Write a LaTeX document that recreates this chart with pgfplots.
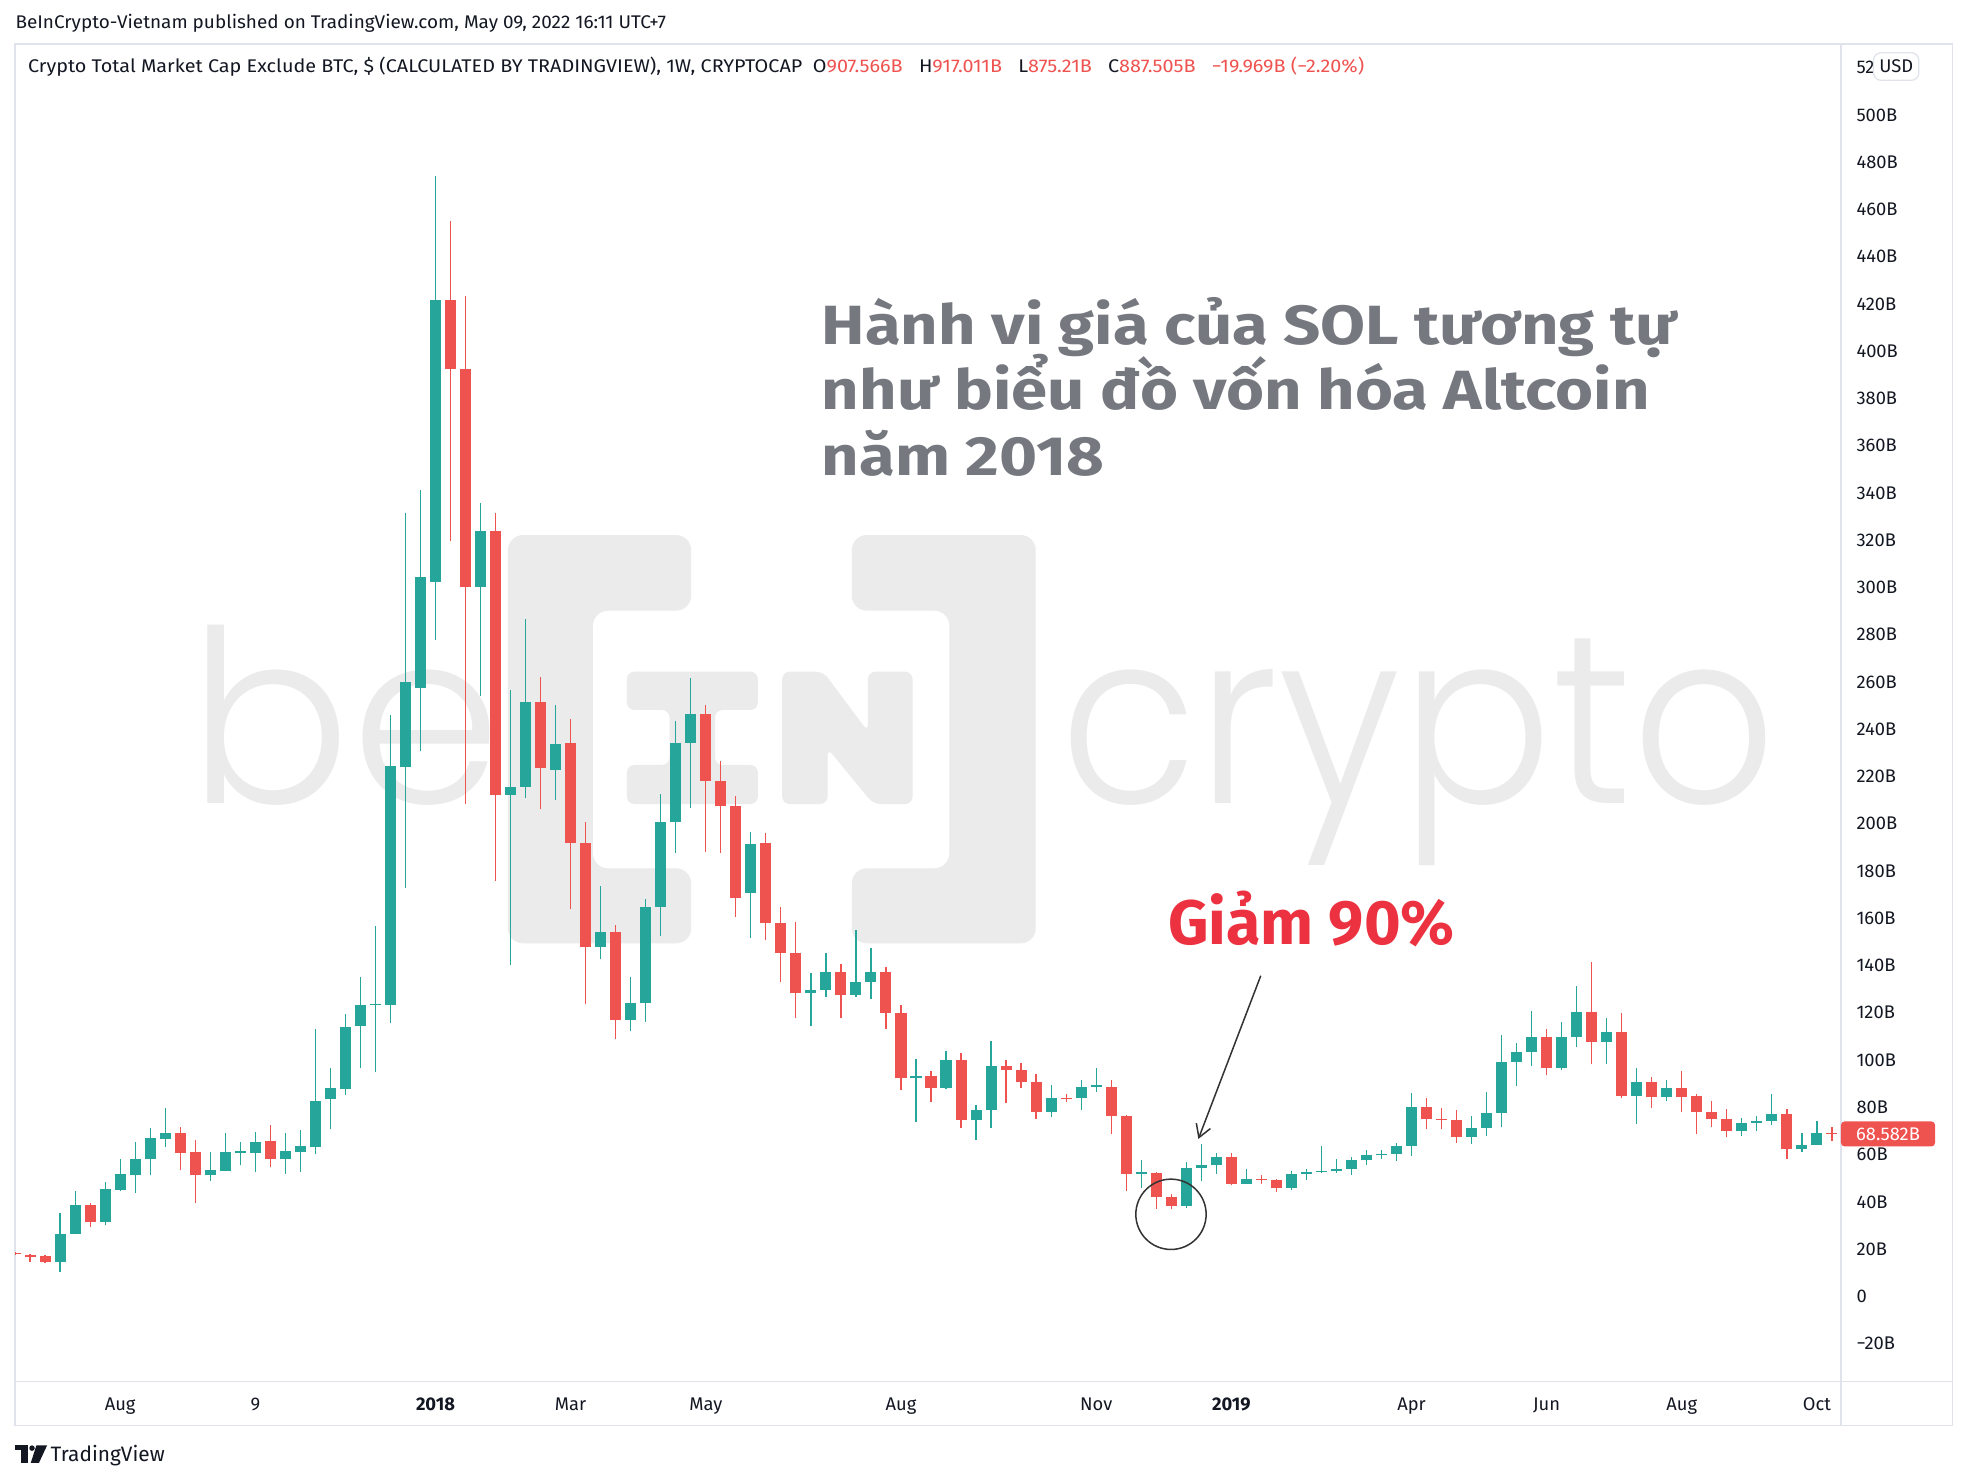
\documentclass[border=0pt]{standalone}
\usepackage{pgfplots}
\pgfplotsset{compat=1.18}
\usepackage{pgfplotstable}
\usepackage{graphicx}
\usepackage{fontspec}
\usetikzlibrary{arrows.meta}
\setmainfont{Fira Sans}
\IfFontExistsTF{Poppins Light}{\newfontfamily\wmfont{Poppins Light}}{\newfontfamily\wmfont{Poppins}}

\definecolor{up}{HTML}{26A69A}
\definecolor{dn}{HTML}{EF5350}
\definecolor{tv}{HTML}{131722}
\definecolor{frame}{HTML}{E0E3EB}
\definecolor{wm}{HTML}{EBEBEB}
\definecolor{note}{HTML}{767880}
\definecolor{hot}{HTML}{EC3240}

% weekly candles, value in billions USD
\pgfplotstableread{
i o h l c
3 14.5 35.2 10.3 26.5
4 26.5 44.4 26.3 38.5
6 31.4 48.4 30.0 45.6
7 45.0 58.3 44.4 51.6
8 51.2 65.1 43.9 58.3
9 57.9 71.4 51.2 67.0
10 66.5 79.5 63.2 68.9
13 51.2 61.1 48.8 53.6
14 53.0 68.9 53.0 61.1
15 60.5 65.3 55.4 61.3
16 60.7 69.6 52.4 65.3
18 57.9 68.9 51.9 61.5
19 61.1 70.3 52.6 63.6
20 63.2 113.3 60.0 82.7
21 83.3 96.8 70.6 88.2
22 87.9 119.5 85.0 114.0
23 114.3 135.2 96.4 123.2
24 123.2 156.8 94.7 123.8
25 123.2 246.2 115.8 224.4
26 223.9 331.3 172.9 259.9
27 257.4 341.2 230.8 304.2
28 302.2 474.2 277.8 421.5
31 300.2 335.7 254.2 323.8
33 212.2 256.7 140.1 215.7
34 215.7 286.8 210.7 251.7
36 222.7 250.3 210.0 233.8
39 147.9 173.6 142.6 154.3
41 116.9 135.2 112.3 123.9
42 123.9 168.1 116.1 164.8
43 164.8 212.4 152.4 200.6
44 200.6 243.6 187.7 234.3
45 234.3 261.6 206.8 246.3
49 170.5 196.6 151.5 191.4
53 128.2 136.9 114.3 129.6
54 129.6 145.1 126.7 137.1
56 127.4 155.0 126.7 133.1
57 133.1 147.2 126.0 137.1
60 92.2 100.6 73.8 93.1
62 88.3 103.9 87.6 99.9
64 74.5 80.9 66.3 78.7
65 78.7 108.1 71.2 97.4
69 77.8 89.3 75.9 84.1
71 83.8 91.4 79.0 88.6
72 88.6 96.7 86.5 89.2
75 51.9 57.6 46.0 52.5
78 38.1 56.8 37.5 54.3
79 54.3 64.3 48.7 55.4
80 55.4 60.8 51.9 59.0
82 47.7 53.7 47.5 49.8
85 46.0 53.0 44.9 51.6
86 51.6 53.7 49.4 52.4
87 52.4 63.6 52.2 53.0
88 53.0 58.0 52.3 54.0
89 54.0 59.0 51.5 57.6
90 57.6 62.1 55.6 59.7
91 59.7 62.1 58.0 60.3
92 60.1 64.9 57.3 63.6
93 63.6 86.1 59.5 80.1
97 67.2 76.4 64.6 71.4
98 71.4 86.5 67.9 77.6
99 77.6 110.5 71.7 99.2
100 99.2 107.3 88.9 103.4
101 103.4 120.7 97.5 109.8
103 96.4 115.9 95.9 109.8
104 109.8 131.3 105.6 120.4
106 107.7 117.8 98.2 111.9
108 84.8 96.8 73.1 90.7
110 84.4 91.4 82.5 88.2
115 69.8 75.6 67.7 73.4
116 73.4 76.2 70.0 74.1
117 74.1 85.4 72.4 77.3
119 62.5 68.9 61.1 64.2
120 64.2 74.2 63.9 68.9
}\upcandles

\pgfplotstableread{
i o h l c
0 18.4 18.8 17.6 17.8
1 17.4 17.7 14.6 16.5
2 16.9 17.6 14.1 14.5
5 38.5 39.3 29.3 31.4
11 68.9 71.7 53.3 60.7
12 61.1 66.0 39.6 51.2
17 65.7 72.4 54.5 57.9
29 421.5 455.0 319.6 392.4
30 392.4 423.5 208.5 300.2
32 323.8 331.5 175.9 212.2
35 251.7 262.0 206.1 223.5
37 234.3 244.2 163.7 191.7
38 191.7 200.6 123.5 147.9
40 154.3 157.1 108.8 116.9
46 246.3 250.3 188.1 218.1
47 218.1 226.6 187.7 207.5
48 207.5 211.7 160.6 168.4
50 191.7 195.9 150.7 157.8
51 157.8 164.8 132.8 145.4
52 145.4 158.2 117.6 128.2
55 137.1 140.6 117.6 127.4
58 137.1 139.2 113.3 119.7
59 120.0 123.2 87.2 92.2
61 93.1 95.4 82.3 88.3
63 99.9 102.8 71.2 74.5
66 97.4 99.9 81.6 95.7
67 95.7 98.8 88.3 90.5
68 90.5 94.0 75.2 77.8
70 84.1 85.8 82.3 83.5
73 88.6 91.4 68.6 76.3
74 76.3 76.8 44.6 51.9
76 52.3 52.7 37.1 42.0
77 42.0 43.1 36.8 38.1
81 59.0 60.8 47.0 47.7
83 49.8 51.2 47.3 49.1
84 49.0 49.5 44.1 46.0
94 80.1 84.1 70.6 75.2
95 75.2 79.5 70.6 74.5
96 74.5 78.8 65.0 67.2
102 109.8 113.0 93.5 96.4
105 120.4 141.6 98.1 107.7
107 111.9 120.0 83.7 84.8
109 90.7 92.9 79.7 84.4
111 88.2 95.4 77.8 84.4
112 84.8 85.8 68.6 77.8
113 77.8 82.7 71.7 75.2
114 75.2 79.4 67.2 69.8
118 77.3 79.4 57.9 62.5
121 69.1 71.8 65.8 68.6
}\dncandles

\newcommand\tvfont{\fontsize{7.3}{8.8}\selectfont}
\pgfplotsset{candle/.style={only marks,mark=*,mark size=0pt,mark options={draw=none,fill=none},forget plot,
  error bars/.cd,y dir=plus,y explicit,error mark=none}}

\begin{document}
\begin{tikzpicture}
\useasboundingbox (0,0) rectangle (784pt,589.5pt);
\fill[white] (0,0) rectangle (784pt,589.5pt);

% watermark (units: pixels of the 1568 wide picture, y downwards)
\begin{scope}[x=0.5pt,y=-0.5pt,shift={(0pt,589.5pt)}]
  \fill[wm,rounded corners=6] (404.5,426.1) -- (550.4,426.1) -- (550.4,486.3) -- (472.2,486.3) -- (472.2,691.5) -- (550.4,691.5) -- (550.4,751.2) -- (404.5,751.2) -- cycle;
  \fill[wm,rounded corners=6] (678.3,426.1) -- (824.8,426.1) -- (824.8,751.2) -- (678.3,751.2) -- (678.3,691.5) -- (756,691.5) -- (756,486.3) -- (678.3,486.3) -- cycle;
  \fill[wm,rounded corners=3] (499.2,534.9) -- (603.5,534.9) -- (603.5,565.4) -- (569.4,565.4) -- (569.4,609.2) -- (603.5,609.2) -- (603.5,640.3) -- (499.2,640.3) -- (499.2,609.2) -- (533.2,609.2) -- (533.2,565.4) -- (499.2,565.4) -- cycle;
  \fill[wm,rounded corners=3] (622.9,534.9) -- (655.6,534.9) -- (691.2,582.7) -- (691.2,534.9) -- (726.7,534.9) -- (726.7,640.3) -- (695.4,640.3) -- (659.0,595.9) -- (659.0,640.3) -- (622.9,640.3) -- cycle;
  \node[anchor=base west,inner sep=0pt,text=wm,font=\wmfont\fontsize{96}{100}\selectfont] at (150,640) {be};
  \node[anchor=base west,inner sep=0pt,text=wm,font=\wmfont\fontsize{96}{100}\selectfont] at (844,640) {\scalebox{0.93}[1]{crypto}};
  % pane frame
  \draw[frame,line width=0.5pt] (12,35) rectangle (1555,1135);
  \draw[frame,line width=0.5pt] (1466,1100) -- (1555,1100);
  \draw[frame,line width=0.5pt] (1466,1100) -- (1466,1135);
\end{scope}

\begin{axis}[
  at={(6pt,39.5pt)}, anchor=south west,
  scale only axis, width=727pt, height=532.5pt,
  xmin=0, xmax=121.6, ymin=-36, ymax=530,
  axis line style={frame,line width=0.5pt},
  major tick length=0pt,
  xtick={7,16,28,37,46,59,72,81,93,102,111,120},
  xticklabels={Aug,9,\textbf{2018},Mar,May,Aug,Nov,\textbf{2019},Apr,Jun,Aug,Oct},
  xticklabel style={anchor=base,inner sep=0pt,yshift=-11.5pt},
  ytick={-20,0,20,...,520},
  yticklabels={−20B,0,20B,40B,60B,80B,100B,120B,140B,160B,180B,200B,220B,240B,260B,280B,300B,320B,340B,360B,380B,400B,420B,440B,460B,480B,500B,52},
  yticklabel pos=right,
  yticklabel style={anchor=base west,inner sep=0pt,xshift=6pt,yshift=-2.5pt},
  tick label style={font=\tvfont,text=tv},
  clip=true,
]
% wicks
\addplot[candle,error bar style={draw=up,line width=0.5pt}]
  table[x=i,y=l,y error expr=\thisrow{h}-\thisrow{l}] {\upcandles};
\addplot[candle,error bar style={draw=dn,line width=0.5pt}]
  table[x=i,y=l,y error expr=\thisrow{h}-\thisrow{l}] {\dncandles};
% bodies
\addplot[candle,error bar style={draw=up,line width=4.4pt}]
  table[x=i,y=o,y error expr=\thisrow{c}-\thisrow{o}] {\upcandles};
\addplot[candle,error bar style={draw=dn,line width=4.4pt}]
  table[x=i,y=c,y error expr=\thisrow{o}-\thisrow{c}] {\dncandles};
\end{axis}

\begin{scope}[x=0.5pt,y=-0.5pt,shift={(0pt,589.5pt)}]
  % header
  \node[anchor=base west,inner sep=0pt,text=tv,font=\tvfont] at (12,23)
    {\scalebox{1.033}[1]{BeInCrypto-Vietnam published on TradingView.com, May 09, 2022 16:11 UTC+7}};
  \node[anchor=base west,inner sep=0pt,text=tv,font=\tvfont] at (22,58)
    {\scalebox{1.08}[1]{Crypto Total Market Cap Exclude BTC, \$ (CALCULATED BY TRADINGVIEW), 1W, CRYPTOCAP}};
  \node[anchor=base west,inner sep=0pt,text=tv,font=\tvfont] at (647,58)
    {\scalebox{1.08}[1]{O\textcolor{dn}{907.566B}\hspace{6pt}H\textcolor{dn}{917.011B}\hspace{6pt}L\textcolor{dn}{875.21B}\hspace{6pt}C\textcolor{dn}{887.505B}\hspace{6pt}\textcolor{dn}{−19.969B (−2.20\%)}}};
  % currency box
  \draw[frame,fill=white,line width=0.5pt,rounded corners=3] (1492,42) rectangle (1528,64);
  \node[text=tv,font=\tvfont,inner sep=0pt] at (1510,53) {USD};
  % last price label
  \fill[dn,rounded corners=1.5] (1466,893) rectangle (1541,913);
  \node[text=white,font=\tvfont,inner sep=0pt] at (1503.5,903) {68.582B};
  % annotation
  \node[anchor=base west,inner sep=0pt,text=note,font=\bfseries\fontsize{22}{26}\selectfont] at (654,274) {\scalebox{1.18}[1]{Hành vi giá của SOL tương tự}};
  \node[anchor=base west,inner sep=0pt,text=note,font=\bfseries\fontsize{22}{26}\selectfont] at (654,326.5) {\scalebox{1.18}[1]{như biểu đồ vốn hóa Altcoin}};
  \node[anchor=base west,inner sep=0pt,text=note,font=\bfseries\fontsize{22}{26}\selectfont] at (654,378.5) {\scalebox{1.18}[1]{năm 2018}};
  \node[anchor=base west,inner sep=0pt,text=hot,font=\bfseries\fontsize{25}{30}\selectfont] at (930,752.5) {Giảm 90\%};
  \draw[black!80,line width=0.6pt,-{Straight Barb[length=5pt,width=6pt]}] (1004,777) -- (954.3,907);
  \draw[black!80,line width=0.6pt] (932.5,967) circle[radius=28];
  % footer logo
  \fill[tv] (12,1151) rectangle (22,1155);
  \fill[tv] (16.5,1151) rectangle (22,1165);
  \fill[tv] (25.5,1153.2) circle[radius=2.2];
  \fill[tv] (29,1151) -- (37.5,1151) -- (31,1165) -- (24.5,1165) -- cycle;
  \node[anchor=base west,inner sep=0pt,text=tv,font=\fontsize{8.3}{10}\selectfont] at (40,1164) {TradingView};
\end{scope}
\end{tikzpicture}
\end{document}
